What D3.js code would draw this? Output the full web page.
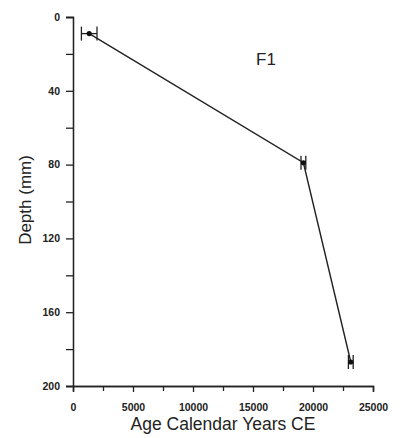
<!DOCTYPE html>
<html>
<head>
<meta charset="utf-8">
<script src="https://cdn.jsdelivr.net/npm/d3@7"></script>
<style>
  html, body { margin: 0; padding: 0; background: #fff; }
  svg { display: block; font-family: "Liberation Sans", Arial, sans-serif; }
</style>
</head>
<body>
<svg id="chart" width="412" height="438"></svg>
<script>
// Age–depth model for sample F1
const ages = [1350, 19200, 23150];          // calendar years CE
const depths = [9, 79, 187];                // mm
const ageErrors = [650, 200, 200];          // ± years
const xTicks = [0, 5000, 10000, 15000, 20000, 25000];
const xMinor = [2500, 7500, 12500, 17500, 22500];
const yTicks = [0, 40, 80, 120, 160, 200];
const yMinor = [20, 60, 100, 140, 180];
const title = "F1";
const xTitle = "Age Calendar Years CE";
const yTitle = "Depth (mm)";

const svg = d3.select("#chart");
const m = { left: 73, right: 39, top: 17, bottom: 52 };
const W = 412, H = 438;

const x = d3.scaleLinear().domain([0, 25000]).range([m.left, W - m.right]);
const y = d3.scaleLinear().domain([0, 200]).range([m.top, H - m.bottom]);

// X axis
const xAxis = svg.append("g").attr("transform", `translate(0,${y(200)})`);
xAxis.call(d3.axisBottom(x).tickValues(xTicks).tickSize(6).tickPadding(12).tickFormat(d3.format("d")));
xAxis.append("g").call(d3.axisBottom(x).tickValues(xMinor).tickSize(5).tickFormat(""));
// Y axis
const yAxis = svg.append("g").attr("transform", `translate(${x(0)},0)`);
yAxis.call(d3.axisLeft(y).tickValues(yTicks).tickSize(7).tickPadding(6).tickFormat(d3.format("d")));
yAxis.append("g").call(d3.axisLeft(y).tickValues(yMinor).tickSize(7).tickFormat(""));

svg.selectAll(".domain").attr("stroke", "#222").attr("stroke-width", 1.3);
svg.selectAll(".tick line").attr("stroke", "#222").attr("stroke-width", 1.3);
svg.selectAll(".tick text").attr("font-size", 10.5).attr("font-weight", "bold").attr("fill", "#222")
   .attr("font-family", "'Liberation Sans', Arial, sans-serif");

// Line through dated points
const pts = ages.map((a, i) => ({ a, d: depths[i], e: ageErrors[i] }));
svg.append("path")
  .datum(pts)
  .attr("fill", "none")
  .attr("stroke", "#222")
  .attr("stroke-width", 1.4)
  .attr("d", d3.line().x(p => x(p.a)).y(p => y(p.d)));

// Horizontal error bars with caps
const eb = svg.append("g").attr("stroke", "#222").attr("stroke-width", 1.3).attr("fill", "none");
pts.forEach(p => {
  const cy = y(p.d), x0 = x(p.a - p.e), x1 = x(p.a + p.e);
  eb.append("line").attr("x1", x0).attr("x2", x1).attr("y1", cy).attr("y2", cy);
  eb.append("line").attr("x1", x0).attr("x2", x0).attr("y1", cy - 7).attr("y2", cy + 7);
  eb.append("line").attr("x1", x1).attr("x2", x1).attr("y1", cy - 7).attr("y2", cy + 7);
});
svg.append("g").selectAll("circle").data(pts).join("circle")
  .attr("cx", p => x(p.a)).attr("cy", p => y(p.d)).attr("r", 2.6).attr("fill", "#111");

// Titles
svg.append("text").attr("x", 266).attr("y", 65).attr("text-anchor", "middle")
  .attr("font-size", 17).attr("fill", "#222").text(title);
svg.append("text").attr("x", 223).attr("y", 430).attr("text-anchor", "middle")
  .attr("font-size", 17.5).attr("fill", "#222").text(xTitle);
svg.append("text").attr("transform", `translate(31,200) rotate(-90)`)
  .attr("text-anchor", "middle").attr("font-size", 17).attr("fill", "#222").text(yTitle);
</script>
</body>
</html>
